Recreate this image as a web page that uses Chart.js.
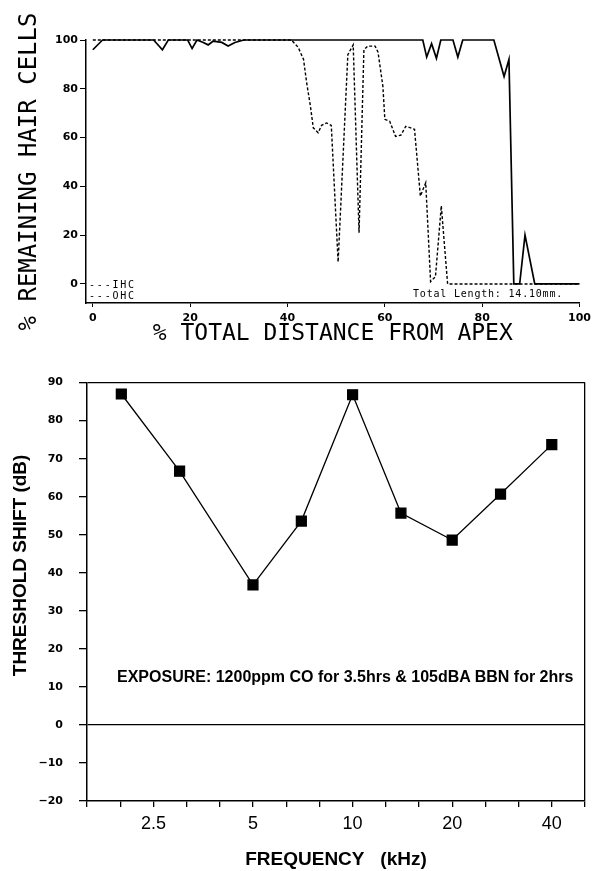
<!DOCTYPE html>
<html>
<head>
<meta charset="utf-8">
<script src="https://cdn.jsdelivr.net/npm/chart.js@4"></script>
<style>
  body { margin: 0; background: #fff; width: 596px; height: 871px; position: relative; overflow: hidden; }
  .box { position: absolute; left: 0; width: 596px; }
  .note { position: absolute; color: #000; white-space: pre; }
  .mono { font-family: "DejaVu Sans Mono", monospace; font-size: 10px; letter-spacing: 0.8px; }
</style>
</head>
<body>
<div class="box" style="top:0;height:360px"><canvas id="cochlea"></canvas></div>
<div class="box" style="top:360px;height:511px"><canvas id="shift"></canvas></div>
<div class="note mono" style="left:89px;top:279px;letter-spacing:1.8px">---IHC</div>
<div class="note mono" style="left:89px;top:290px;letter-spacing:1.8px">---OHC</div>
<div class="note mono" style="left:413px;top:288px">Total Length: 14.10mm.</div>
<div class="note" style="left:117px;top:668px;font:bold 16px 'Liberation Sans', Arial, sans-serif">EXPOSURE: 1200ppm CO for 3.5hrs &amp; 105dBA BBN for 2hrs</div>
<script>
// cochleogram: % distance from apex vs % remaining hair cells
const ihcX = [0, 2, 12.5, 14.3, 15.5, 19.5, 20.4, 21.4, 22.7, 23.7, 24.7, 26.5, 27.8, 29.2, 31, 67.8, 68.6, 69.6, 70.6, 71.5, 74, 75, 76, 82.4, 84.5, 85.5, 86.5, 87.7, 88.8, 90.8, 100];
const ihcY = [96, 100, 100, 96, 100, 100, 96.5, 100, 99, 98, 99.5, 99, 97.5, 99, 100, 100, 93, 98.5, 92.5, 100, 100, 93, 100, 100, 85, 92, 0, 0, 20, 0, 0];
const ohcX = [0, 40.8, 42.2, 43.3, 43.9, 44.7, 45.3, 46.3, 47, 48, 49, 50.4, 52.4, 53.5, 54.7, 55.7, 56.5, 58, 58.6, 59.6, 60, 61, 62.2, 63.3, 64.3, 65.3, 66.1, 67.3, 68.4, 69.4, 70.4, 71.6, 72.9, 100];
const ohcY = [100, 100, 97, 92, 83, 73, 64, 62, 65, 66, 65, 9, 94, 98, 21, 96, 97.5, 97.5, 95, 81, 67.5, 66.7, 60.5, 61, 64.6, 64, 63.4, 36, 41.5, 1, 3, 32, 0, 0];
const distTicks = [0, 20, 40, 60, 80, 100];
const cellTicks = [0, 20, 40, 60, 80, 100];

// threshold shift vs frequency
const freqs = [2, 3, 5, 7, 10, 14, 20, 28, 40];
const shifts = [87, 66.7, 36.8, 53.6, 86.8, 55.7, 48.6, 60.7, 73.7];
const freqTicks = [1.575, 1.984, 2.5, 3.15, 3.969, 5, 6.3, 7.937, 10, 12.6, 15.87, 20, 25.2, 31.75, 40, 50.4];
const freqLabels = ['2.5', '5', '10', '20', '40'];
const shiftTicks = [-20, -10, 0, 10, 20, 30, 40, 50, 60, 70, 80, 90];

const sans = "'Liberation Sans', Arial, sans-serif";
const mono = "'DejaVu Sans Mono', monospace";
const smallBold = { family: "'DejaVu Sans', sans-serif", size: 11, weight: 'bold' };

Chart.defaults.color = '#000';
Chart.defaults.animation = false;

const pts = (xs, ys) => xs.map((x, i) => ({ x, y: ys[i] }));

new Chart(document.getElementById('cochlea'), {
  type: 'line',
  data: {
    datasets: [
      { label: 'IHC', data: pts(ihcX, ihcY), borderColor: '#000', borderWidth: 1.7, pointRadius: 0, clip: false },
      { label: 'OHC', data: pts(ohcX, ohcY), borderColor: '#000', borderWidth: 1.4, borderDash: [3, 2], pointRadius: 0, clip: false }
    ]
  },
  options: {
    responsive: true,
    maintainAspectRatio: false,
    layout: { padding: { top: 40, right: 13, left: 0, bottom: 0 } },
    plugins: { legend: { display: false }, tooltip: { enabled: false } },
    scales: {
      x: {
        type: 'linear', min: -1.4, max: 100,
        afterBuildTicks: s => { s.ticks = distTicks.map(v => ({ value: v })); },
        afterFit: s => { s.height = 57; },
        border: { color: '#000', width: 1.5 },
        grid: { drawOnChartArea: false, color: '#000', tickLength: 4 },
        ticks: { font: smallBold, padding: 5, maxRotation: 0, autoSkip: false },
        title: { display: true, text: '% TOTAL DISTANCE FROM APEX', font: { family: mono, size: 23 }, padding: { top: 0, bottom: 12 } }
      },
      y: {
        min: -7.8, max: 100,
        afterBuildTicks: s => { s.ticks = cellTicks.map(v => ({ value: v })); },
        afterFit: s => { s.width = 86; },
        border: { color: '#000', width: 1.5 },
        grid: { drawOnChartArea: false, color: '#000', tickLength: 6 },
        ticks: { font: smallBold, padding: 2 },
        title: { display: true, text: '% REMAINING HAIR CELLS', font: { family: mono, size: 24 }, padding: { top: 15, bottom: 0 } }
      }
    }
  }
});

new Chart(document.getElementById('shift'), {
  type: 'line',
  data: {
    datasets: [{
      label: 'Threshold shift',
      data: pts(freqs, shifts),
      borderColor: '#000', borderWidth: 1.3,
      pointStyle: 'rect', pointRadius: 7,
      pointBackgroundColor: '#000', pointBorderColor: '#000'
    }]
  },
  options: {
    responsive: true,
    maintainAspectRatio: false,
    layout: { padding: { top: 18, right: 11, left: 0, bottom: 0 } },
    plugins: { legend: { display: false }, tooltip: { enabled: false } },
    scales: {
      x: {
        type: 'logarithmic', min: freqTicks[0], max: freqTicks[freqTicks.length - 1],
        afterBuildTicks: s => { s.ticks = freqTicks.map(v => ({ value: v })); },
        afterFit: s => { s.height = 70; },
        border: { color: '#000', width: 1.5 },
        grid: {
          color: c => (c.tick && c.tick.value === freqTicks[freqTicks.length - 1]) ? '#000' : 'rgba(0,0,0,0)',
          tickColor: '#000', tickLength: 6, lineWidth: 1.3
        },
        ticks: {
          font: { family: sans, size: 18 }, padding: 6, maxRotation: 0, autoSkip: false,
          callback: v => freqLabels.find(l => Math.abs(parseFloat(l) - v) < 0.01) || ''
        },
        title: { display: true, text: 'FREQUENCY   (kHz)', font: { family: sans, size: 19, weight: 'bold' }, padding: { top: 0, bottom: 0 } }
      },
      y: {
        min: -20, max: 90,
        afterBuildTicks: s => { s.ticks = shiftTicks.map(v => ({ value: v })); },
        afterFit: s => { s.width = 87; },
        border: { color: '#000', width: 1.5 },
        grid: {
          color: c => (c.tick && (c.tick.value === 0 || c.tick.value === 90)) ? '#000' : 'rgba(0,0,0,0)',
          tickColor: '#000', tickLength: 8, lineWidth: 1.3
        },
        ticks: { font: smallBold, padding: 16, callback: v => String(v).replace('-', '\u2212') },
        // leading spaces lift the rotated title above the axis centre, as in the original
        title: { display: true, text: '          THRESHOLD SHIFT (dB)', font: { family: sans, size: 19, weight: 'bold' }, padding: { top: 9, bottom: 0 } }
      }
    }
  }
});
</script>
</body>
</html>
